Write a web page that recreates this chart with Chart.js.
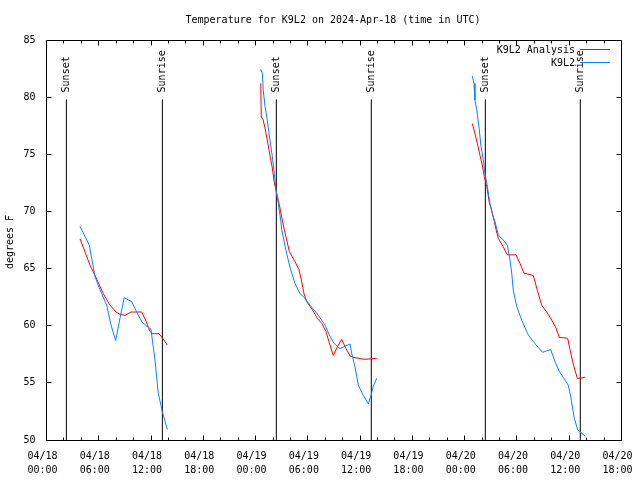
<!DOCTYPE html>
<html>
<head>
<meta charset="utf-8">
<script src="https://cdn.jsdelivr.net/npm/chart.js@4.4.1/dist/chart.umd.min.js"></script>
<style>
html,body{margin:0;padding:0;background:#fff;}
canvas{display:block;}
</style>
</head>
<body>
<canvas id="c" width="640" height="480"></canvas>
<script>
// ---- data (hours since 2024-04-18 00:00 UTC) ----
const chartTitle = "Temperature for K9L2 on 2024-Apr-18 (time in UTC)";
const yAxisTitle = "degrees F";
const seriesNames = ["K9L2 Analysis", "K9L2"];
const seriesColors = ["#ff0000", "#0a80ff"];

const analysisHours = [3.85,4.99,5.57,6.52,7.29,7.98,8.44,9.01,9.70,10.35,10.93,11.42,11.88,12.19,12.91,13.34,13.87,
  19,
  24.59,24.65,24.82,25.08,25.34,25.65,25.92,26.15,26.42,26.72,27.00,27.29,27.57,27.87,28.52,28.98,29.21,29.56,29.87,30.51,31.08,31.59,32.08,32.46,32.92,33.42,33.88,34.38,34.84,35.41,36.56,37.25,37.90,
  43,
  48.87,49.18,49.45,49.76,50.02,50.25,50.53,50.82,51.10,51.40,51.67,51.86,52.43,52.89,53.89,54.35,54.81,55.87,56.34,56.84,57.41,57.99,58.48,58.86,59.82,60.09,60.40,60.66,60.93,61.24,61.81];
const analysisTemps = [67.6,65.3,64.4,62.8,61.8,61.2,61.0,60.9,61.2,61.2,61.2,60.4,59.5,59.3,59.3,58.9,58.3,
  null,
  81.2,78.2,78.15,77.3,76.25,74.9,73.8,72.5,71.6,70.6,69.5,68.4,67.5,66.5,65.6,64.9,64.15,62.8,62.1,61.4,60.65,60.2,59.5,58.5,57.4,58.2,58.8,58.0,57.35,57.2,57.06,57.1,57.15,
  null,
  77.7,76.8,75.96,74.9,74.06,73.04,72.2,70.8,70.1,69.1,68.2,67.65,66.9,66.2,66.2,65.45,64.6,64.4,63.1,61.8,61.2,60.5,59.8,58.98,58.9,57.9,56.85,56.1,55.4,55.4,55.5];

const stationHours = [3.85,4.91,5.57,6.06,6.91,7.40,7.94,8.55,8.93,9.78,10.35,10.93,11.50,11.99,12.45,12.83,13.29,13.87,
  19,
  24.59,24.77,24.88,25.08,25.34,25.65,25.92,26.15,26.34,26.61,26.88,27.00,27.57,28.03,28.52,29.10,29.67,30.24,31.01,31.97,32.46,33.00,33.69,34.26,34.84,35.03,35.41,35.79,36.36,36.94,37.25,37.51,37.90,
  43,
  48.87,49.07,49.18,49.38,49.64,49.87,50.14,50.33,50.60,50.90,51.17,51.48,51.86,52.43,52.89,53.20,53.40,53.58,53.97,54.54,55.23,55.87,56.45,56.95,57.41,57.87,58.37,58.86,59.51,59.89,60.17,60.58,60.97,61.43,61.81];
const stationTemps = [68.7,67.06,64.3,63.3,61.8,60.06,58.7,61.1,62.45,62.1,61.2,60.35,59.97,59.7,57.0,54.1,52.5,50.9,
  null,
  82.43,82.1,80.6,79.2,78.0,76.25,74.8,73.3,71.9,70.7,69.25,68.4,66.3,64.9,63.7,62.8,62.4,61.8,61.1,60.06,59.2,58.46,58.0,58.2,58.4,57.6,56.4,54.8,53.9,53.15,53.9,54.7,55.4,
  null,
  81.85,81.2,79.75,78.9,77.4,75.7,74.5,73.3,72.2,70.7,69.8,69.1,67.94,67.5,67.06,65.75,64.6,63.1,61.7,60.5,59.3,58.6,58.1,57.67,57.8,57.9,56.85,56.0,55.25,54.8,53.8,51.9,50.9,50.6,50.35];

const sunsetHours = [2.28, 26.38, 50.37];
const sunriseHours = [13.30, 37.28, 61.27];
const sunLineTop = 79.8;
const yMin = 50, yMax = 85, yStep = 5;
const xMin = 0, xMax = 66, xLabelStep = 6, xMinorStep = 2;
const startDay = 18;

const FONT = "'DejaVu Sans Mono', 'Liberation Mono', monospace";

function zip(hs, vs){ return hs.map((h,i)=>({x:h, y:vs[i]})); }
function sunData(){
  const pts = [];
  sunsetHours.concat(sunriseHours).sort((a,b)=>a-b).forEach(h=>{
    pts.push({x:h,y:yMin},{x:h,y:sunLineTop},{x:h+0.01,y:null});
  });
  return pts;
}
function pad2(n){ return (n<10?'0':'')+n; }

const decor = {
  id:'decor',
  afterDatasetsDraw(chart){
    const {ctx, chartArea:a, scales:{x,y}} = chart;
    const L = Math.floor(a.left)+0.5, R = Math.floor(a.right)+0.5;
    const T = Math.floor(a.top)+0.5, B = Math.floor(a.bottom)+0.5;
    ctx.save();
    ctx.strokeStyle = '#000'; ctx.lineWidth = 1;
    ctx.beginPath();
    ctx.rect(L, T, R-L, B-T);
    for(let h=xMin; h<=xMax; h+=xMinorStep){
      const px = Math.floor(x.getPixelForValue(h))+0.5;
      const len = (h % xLabelStep === 0) ? 5 : 3;
      ctx.moveTo(px, B); ctx.lineTo(px, B-len);
      ctx.moveTo(px, T); ctx.lineTo(px, T+len);
    }
    for(let v=yMin; v<=yMax; v+=yStep){
      const py = Math.floor(y.getPixelForValue(v))+0.5;
      ctx.moveTo(L, py); ctx.lineTo(L+5, py);
      ctx.moveTo(R, py); ctx.lineTo(R-5, py);
    }
    ctx.stroke();

    ctx.fillStyle = '#000';
    ctx.font = '10px ' + FONT;
    // title
    ctx.textAlign = 'center'; ctx.textBaseline = 'middle';
    ctx.fillText(chartTitle, (a.left+a.right)/2 - 1, 20);
    // y title
    ctx.save();
    ctx.translate(10, (a.top+a.bottom)/2 + 2);
    ctx.rotate(-Math.PI/2);
    ctx.fillText(yAxisTitle, 0, 0);
    ctx.restore();
    // sunrise / sunset labels
    const topPx = y.getPixelForValue(sunLineTop);
    const drawSun = (h, txt)=>{
      const px = x.getPixelForValue(h);
      ctx.save();
      ctx.translate(px+0.5, topPx-7);
      ctx.rotate(-Math.PI/2);
      ctx.textAlign = 'left'; ctx.textBaseline = 'middle';
      ctx.fillText(txt, 0, 0);
      ctx.restore();
    };
    sunsetHours.forEach(h=>drawSun(h,'Sunset'));
    sunriseHours.forEach(h=>drawSun(h,'Sunrise'));
    // legend
    ctx.textAlign = 'right'; ctx.textBaseline = 'middle';
    seriesNames.forEach((n,i)=>{
      const ly = 50 + i*13;
      ctx.fillText(n, 575, ly);
      ctx.strokeStyle = seriesColors[i];
      ctx.beginPath();
      ctx.moveTo(580, Math.floor(ly)-0.5); ctx.lineTo(610, Math.floor(ly)-0.5);
      ctx.stroke();
    });
    ctx.restore();
  }
};

new Chart(document.getElementById('c'), {
  type: 'line',
  data: {
    datasets: [
      {label: seriesNames[0], data: zip(analysisHours, analysisTemps), borderColor: seriesColors[0], borderWidth: 1, pointRadius: 0, tension: 0, spanGaps: false, order: 1},
      {label: seriesNames[1], data: zip(stationHours, stationTemps), borderColor: seriesColors[1], borderWidth: 1, pointRadius: 0, tension: 0, spanGaps: false, order: 0},
      {label: 'sun', data: sunData(), borderColor: '#000', borderWidth: 1, pointRadius: 0, tension: 0, spanGaps: false, order: 3}
    ]
  },
  options: {
    responsive: false,
    animation: false,
    events: [],
    layout: {padding: {top: 40, right: 18.5, bottom: 0, left: 0}},
    plugins: {legend: {display: false}, title: {display: false}, tooltip: {enabled: false}},
    scales: {
      x: {
        type: 'linear', min: xMin, max: xMax,
        afterFit(s){ s.height = 40; s.paddingLeft = 0; s.paddingRight = 0; },
        grid: {display: false, drawTicks: false},
        border: {display: false},
        ticks: {
          stepSize: xLabelStep, autoSkip: false, maxRotation: 0, minRotation: 0,
          padding: 9, labelOffset: -4, color: '#000',
          font: {family: FONT, size: 10, lineHeight: 1.4},
          callback(v){
            const day = startDay + Math.floor(v/24);
            const hh = v % 24;
            return ['04/' + pad2(day), pad2(hh) + ':00'];
          }
        }
      },
      y: {
        type: 'linear', min: yMin, max: yMax,
        afterFit(s){ s.width = 46.5; s.paddingTop = 0; s.paddingBottom = 0; },
        grid: {display: false, drawTicks: false},
        border: {display: false},
        ticks: {stepSize: yStep, padding: 11, color: '#000', font: {family: FONT, size: 10}}
      }
    }
  },
  plugins: [decor]
});
</script>
</body>
</html>
